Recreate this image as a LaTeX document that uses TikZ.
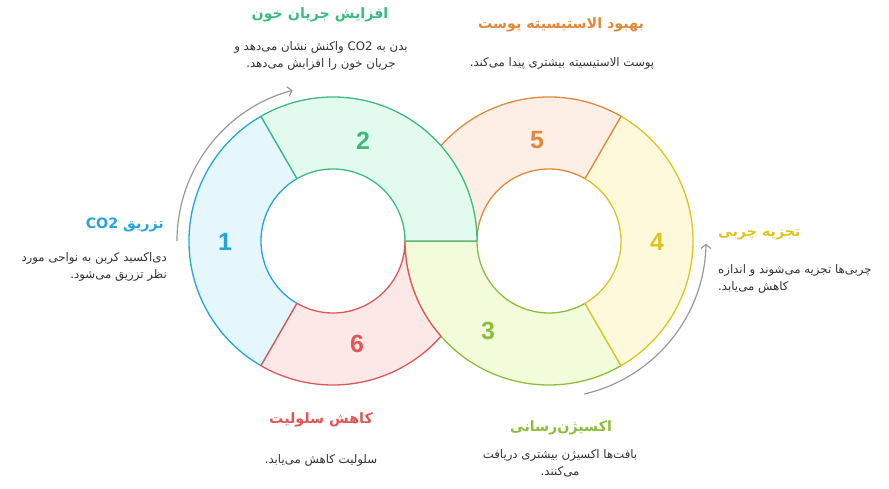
\documentclass[tikz,border=0pt]{standalone}
\usepackage{fontspec}
\setmainfont{Liberation Sans}
\newfontfamily\fa[Script=Arabic]{DejaVu Sans}
\TeXXeTstate=1
\usetikzlibrary{arrows.meta}

\definecolor{cblue}{HTML}{22A6D9}
\definecolor{fblue}{HTML}{E6F6FD}
\definecolor{cgreen}{HTML}{3DBB7E}
\definecolor{fgreen}{HTML}{E3FBEF}
\definecolor{cyelgr}{HTML}{8DBE3B}
\definecolor{fyelgr}{HTML}{F2FCDB}
\definecolor{cyellow}{HTML}{DDC41F}
\definecolor{fyellow}{HTML}{FEF9DB}
\definecolor{corange}{HTML}{E0893B}
\definecolor{forange}{HTML}{FDEFE6}
\definecolor{cred}{HTML}{E05656}
\definecolor{fred}{HTML}{FDE8E8}
\definecolor{bodytext}{HTML}{333333}

\tikzstyle{seg} = [line width = 1.3bp, line join = round]
\tikzstyle{num} = [inner sep = 0, font = \fontsize{25}{28}\selectfont\bfseries]
\tikzstyle{title} = [inner sep = 0, font = \fa\fontsize{14.3}{17}\selectfont\bfseries]
\tikzstyle{desc} = [inner sep = 0, font = \fa\fontsize{11.8}{17}\selectfont, text = bodytext]
\tikzstyle{arrow} = [line width = 1.2bp, draw = black!40, -{Straight Barb[length=4bp,width=10bp]}]

\begin{document}
\begin{tikzpicture}[x = 1bp, y = 1bp]
        	\useasboundingbox (0,0) rectangle (889,-489);
        	\coordinate (L) at (333,-241);
        	\coordinate (R) at (549,-241);
        	
        	% ring segments, back to front
        	\filldraw[seg, draw = cblue, fill = fblue] ([shift={(120:144bp)}]L) arc[start angle = 120, end angle = 240, radius = 144bp] -- ([shift={(240:72bp)}]L) arc[start angle = 240, end angle = 120, radius = 72bp] -- cycle;
        	\filldraw[seg, draw = cyelgr, fill = fyelgr] ([shift={(180:144bp)}]R) arc[start angle = 180, end angle = 300, radius = 144bp] -- ([shift={(300:72bp)}]R) arc[start angle = 300, end angle = 180, radius = 72bp] -- cycle;
        	\filldraw[seg, draw = cred, fill = fred] ([shift={(240:144bp)}]L) arc[start angle = 240, end angle = 318.59, radius = 144bp] arc[start angle = 221.41, end angle = 180, radius = 144bp] arc[start angle = 360, end angle = 240, radius = 72bp] -- cycle;
        	\filldraw[seg, draw = cyellow, fill = fyellow] ([shift={(-60:144bp)}]R) arc[start angle = -60, end angle = 60, radius = 144bp] -- ([shift={(60:72bp)}]R) arc[start angle = 60, end angle = -60, radius = 72bp] -- cycle;
        	\filldraw[seg, draw = corange, fill = forange] ([shift={(60:144bp)}]R) arc[start angle = 60, end angle = 180, radius = 144bp] -- ([shift={(180:72bp)}]R) arc[start angle = 180, end angle = 60, radius = 72bp] -- cycle;
        	\filldraw[seg, draw = cgreen, fill = fgreen] ([shift={(0:144bp)}]L) arc[start angle = 0, end angle = 120, radius = 144bp] -- ([shift={(120:72bp)}]L) arc[start angle = 120, end angle = 0, radius = 72bp] -- cycle;
        	
        	\node[num, text = cblue] (n1) at (225,-242) {1};
        	\node[num, text = cgreen] (n2) at (363,-141) {2};
        	\node[num, text = cyelgr] (n3) at (488,-331) {3};
        	\node[num, text = cyellow] (n4) at (657,-242) {4};
        	\node[num, text = corange] (n5) at (537,-140) {5};
        	\node[num, text = cred] (n6) at (357,-344) {6};
        	
        	\draw[arrow] ([shift={(180:156bp)}]L) arc[start angle = 180, end angle = 105, radius = 156bp];
        	\draw[arrow] ([shift={(283:157bp)}]R) arc[start angle = 283, end angle = 359, radius = 157bp];
        	
        	\node[title, text = cblue, anchor = east] (t1) at (164,-225) {\beginR تزریق \beginL CO2\endL\endR};
        	\node[desc, anchor = east, align = right] (d1) at (167,-267) {\beginR دی‌اکسید کربن به نواحی مورد\endR\\ \beginR نظر تزریق می‌شود.\endR};
        	
        	\node[title, text = cgreen] (t2) at (320,-15) {\beginR افزایش جریان خون\endR};
        	\node[desc, align = center] (d2) at (321,-56) {\beginR بدن به \beginL CO2\endL{} واکنش نشان می‌دهد و\endR\\ \beginR جریان خون را افزایش می‌دهد.\endR};
        	
        	\node[title, text = corange] (t5) at (561,-25) {\beginR بهبود الاستیسیته پوست\endR};
        	\node[desc] (d5) at (562,-63) {\beginR پوست الاستیسیته بیشتری پیدا می‌کند.\endR};
        	
        	\node[title, text = cyellow, anchor = west] (t4) at (718,-235) {\beginR تجزیه چربی\endR};
        	\node[desc, anchor = west, align = left] (d4) at (718,-279) {\beginR چربی‌ها تجزیه می‌شوند و اندازه\endR\\ \beginR کاهش می‌یابد.\endR};
        	
        	\node[title, text = cred] (t6) at (321,-420) {\beginR کاهش سلولیت\endR};
        	\node[desc] (d6) at (321,-460) {\beginR سلولیت کاهش می‌یابد.\endR};
        	
        	\node[title, text = cyelgr] (t3) at (561,-428) {\beginR اکسیژن‌رسانی\endR};
        	\node[desc, align = center] (d3) at (560,-463) {\beginR بافت‌ها اکسیژن بیشتری دریافت\endR\\ \beginR می‌کنند.\endR};
        	
\end{tikzpicture}
\end{document}
